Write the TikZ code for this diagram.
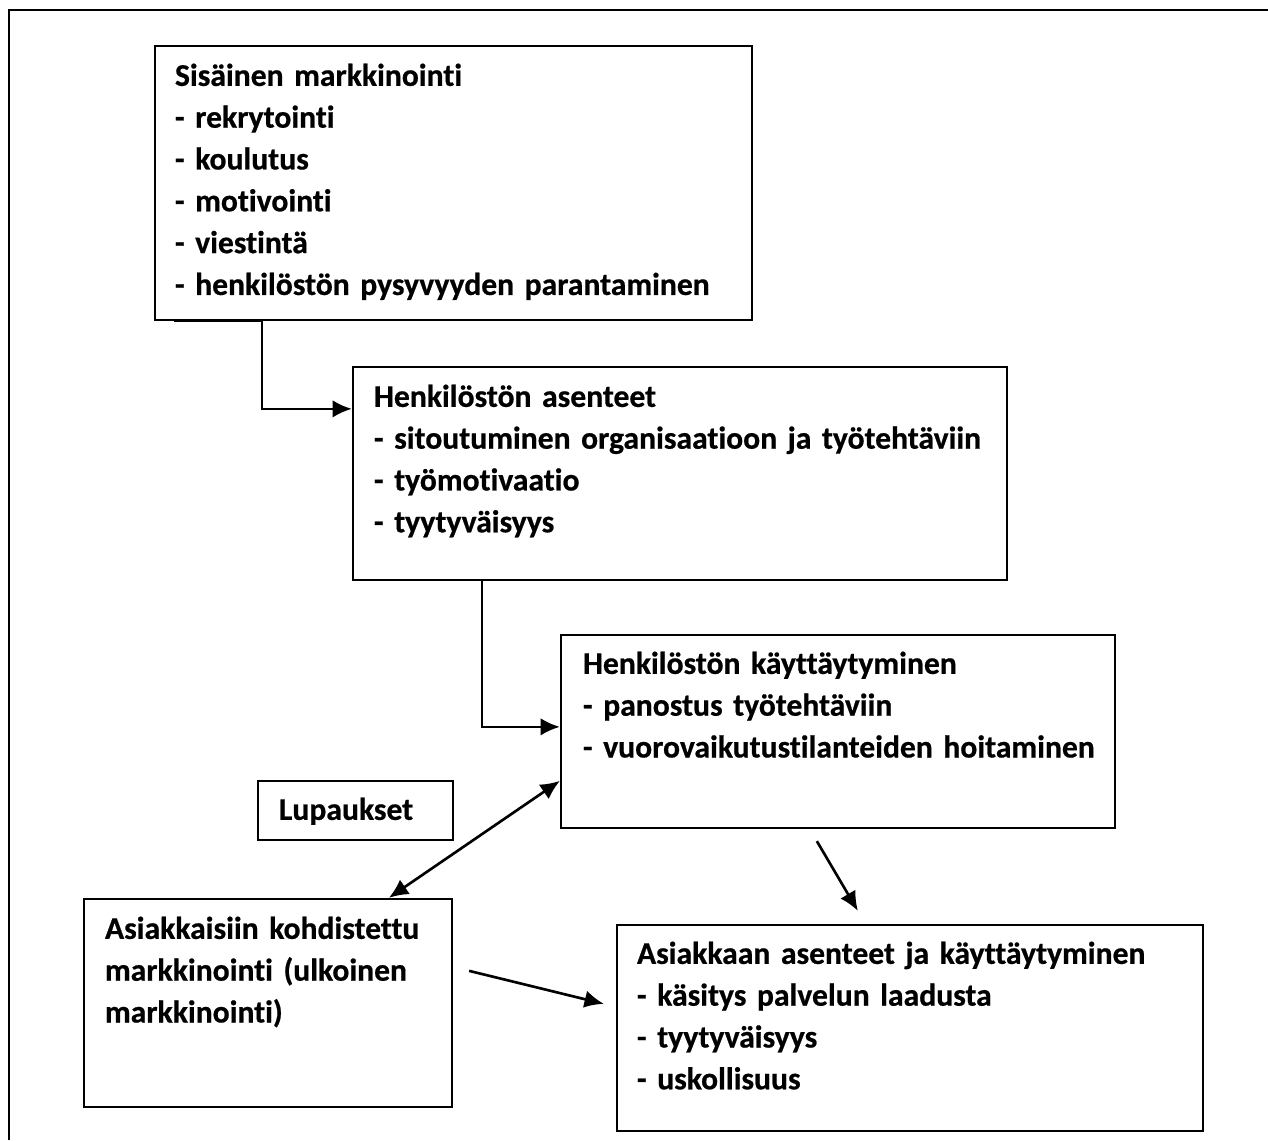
\documentclass[tikz,border=0pt]{standalone}
\usepackage{fontspec}
\setmainfont{Carlito}[Ligatures=NoCommon,BoldFeatures={FakeBold=0.6}]
\usetikzlibrary{arrows.meta,positioning,fit,calc}

\begin{document}
\begin{tikzpicture}[x=0.02cm,y=-0.02cm,line width=1.3pt,
    box/.style={draw,inner sep=0pt},
    lbl/.style={anchor=base west,align=left,inner sep=0pt,text width=14cm,
      font=\bfseries\fontsize{18}{23.8}\selectfont},
    tip/.tip={Latex[length=11pt,width=10pt]},
    arr/.style={-tip,line width=1.5pt}]

      \useasboundingbox (0,0) rectangle (1268,1140);
      \draw (9,1140) -- (9,10) -- (1268,10);

      \node[box,fit={(155,46) (752,320)}]   (sis) {};
      \node[box,fit={(353,367) (1007,580)}] (asen) {};
      \node[box,fit={(561,635) (1115,828)}] (kay) {};
      \node[box,fit={(258,781) (453,840)}]  (lup) {};
      \node[box,fit={(84,899) (452,1107)}]  (asi) {};
      \node[box,fit={(617,925) (1203,1131)}] (asa) {};

      \node[lbl] (sisT)  at ($(sis.north west)+(20,41)$)  {Sisäinen markkinointi\\- rekrytointi\\- koulutus\\- motivointi\\- viestintä\\- henkilöstön pysyvyyden parantaminen};
      \node[lbl] (asenT) at ($(asen.north west)+(21,41)$) {Henkilöstön asenteet\\- sitoutuminen organisaatioon ja työtehtäviin\\- työmotivaatio\\- tyytyväisyys};
      \node[lbl] (kayT)  at ($(kay.north west)+(22,40)$)  {Henkilöstön käyttäytyminen\\- panostus työtehtäviin\\- vuorovaikutustilanteiden hoitaminen};
      \node[lbl] (lupT)  at ($(lup.north west)+(21,40)$)  {Lupaukset};
      \node[lbl] (asiT)  at ($(asi.north west)+(21,41)$)  {Asiakkaisiin kohdistettu\\markkinointi (ulkoinen\\markkinointi)};
      \node[lbl] (asaT)  at ($(asa.north west)+(20,40)$)  {Asiakkaan asenteet ja käyttäytyminen\\- käsitys palvelun laadusta\\- tyytyväisyys\\- uskollisuus};

      \draw[arr] ($(sis.south west)+(20,0)$) -- ($(sis.south west)+(108,0)$) |- ($(asen.north west)+(0,43)$);
      \draw[arr] ($(asen.south west)+(130,0)$) |- ($(kay.north west)+(0,93)$);
      \draw[arr,tip-tip] ($(asi.north west)+(306,0)$) -- ($(kay.north west)+(0,147)$);
      \draw[arr] ($(kay.south west)+(257,12)$) -- ($(asa.north west)+(242,-13)$);
      \draw[arr] ($(asi.north east)+(16,73)$) -- ($(asa.north west)+(-12,80)$);

    \end{tikzpicture}
\end{document}
